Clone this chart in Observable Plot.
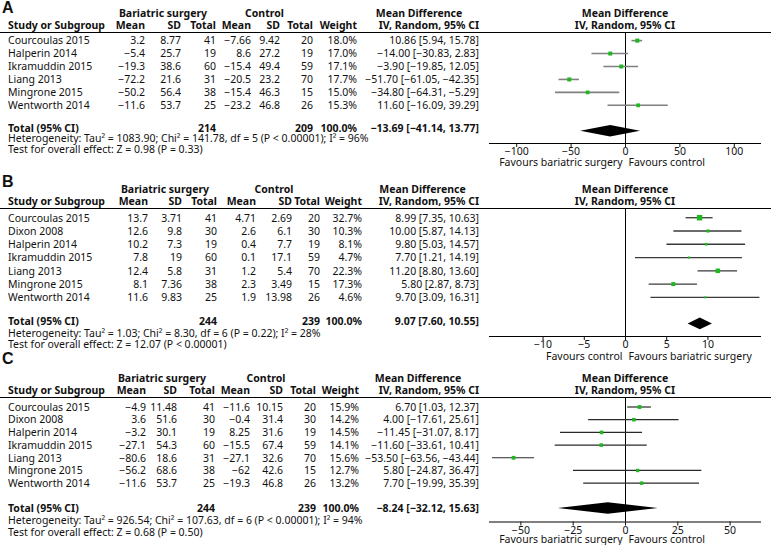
<!DOCTYPE html>
<html><head><meta charset="utf-8">
<script src="https://cdn.jsdelivr.net/npm/d3@7"></script>
<script src="https://cdn.jsdelivr.net/npm/@observablehq/plot@0.6"></script>
<style>
body{margin:0;background:#fff;}
#page{position:relative;width:771px;height:545px;overflow:hidden;font-family:"Noto Sans",sans-serif;color:#111;font-size:10.5px;}
.t{position:absolute;white-space:nowrap;line-height:11px;}
.b{font-weight:bold;}
.lab{font-family:"Liberation Sans",Arial,sans-serif;font-weight:bold;font-size:16px;line-height:16px;}
.hl{position:absolute;left:0;width:771px;height:0;border-top:1px solid #000;}
.pw{position:absolute;left:470px;}
</style></head><body><div id="page"></div>
<script>
// ---------- shared labels ----------
const groupHeaders = ["Bariatric surgery", "Control", "Mean Difference"];
const colHeaders = ["Study or Subgroup", "Mean", "SD", "Total", "Mean", "SD", "Total", "Weight", "IV, Random, 95% CI"];
const forestHeaders = ["Mean Difference", "IV, Random, 95% CI"];
const totalLabel = "Total (95% CI)";

// ---------- Panel A ----------
const studiesA = ["Courcoulas 2015", "Halperin 2014", "Ikramuddin 2015", "Liang 2013", "Mingrone 2015", "Wentworth 2014"];
const bsMeanA = [3.2, -5.4, -19.3, -72.2, -50.2, -11.6];
const bsSDA = [8.77, 25.7, 38.6, 21.6, 56.4, 53.7];
const bsNA = [41, 19, 60, 31, 38, 25];
const cMeanA = [-7.66, 8.6, -15.4, -20.5, -15.4, -23.2];
const cSDA = [9.42, 27.2, 49.4, 23.2, 46.3, 46.8];
const cNA = [20, 19, 59, 70, 15, 26];
const weightA = [18.0, 17.0, 17.1, 17.7, 15.0, 15.3];
const mdA = [10.86, -14.00, -3.90, -51.70, -34.80, 11.60];
const loA = [5.94, -30.83, -19.85, -61.05, -64.31, -16.09];
const hiA = [15.78, 2.83, 12.05, -42.35, -5.29, 39.29];
const totalA = [214, 209, 100.0, -13.69, -41.14, 13.77];
const hetA = "Heterogeneity: Tau² = 1083.90; Chi² = 141.78, df = 5 (P < 0.00001); I² = 96%";
const testA = "Test for overall effect: Z = 0.98 (P = 0.33)";
const ticksA = [-100, -50, 0, 50, 100];
const favoursA = ["Favours bariatric surgery", "Favours control"];

// ---------- Panel B ----------
const studiesB = ["Courcoulas 2015", "Dixon 2008", "Halperin 2014", "Ikramuddin 2015", "Liang 2013", "Mingrone 2015", "Wentworth 2014"];
const bsMeanB = [13.7, 12.6, 10.2, 7.8, 12.4, 8.1, 11.6];
const bsSDB = [3.71, 9.8, 7.3, 19, 5.8, 7.36, 9.83];
const bsNB = [41, 30, 19, 60, 31, 38, 25];
const cMeanB = [4.71, 2.6, 0.4, 0.1, 1.2, 2.3, 1.9];
const cSDB = [2.69, 6.1, 7.7, 17.1, 5.4, 3.49, 13.98];
const cNB = [20, 30, 19, 59, 70, 15, 26];
const weightB = [32.7, 10.3, 8.1, 4.7, 22.3, 17.3, 4.6];
const mdB = [8.99, 10.00, 9.80, 7.70, 11.20, 5.80, 9.70];
const loB = [7.35, 5.87, 5.03, 1.21, 8.80, 2.87, 3.09];
const hiB = [10.63, 14.13, 14.57, 14.19, 13.60, 8.73, 16.31];
const totalB = [244, 239, 100.0, 9.07, 7.60, 10.55];
const hetB = "Heterogeneity: Tau² = 1.03; Chi² = 8.30, df = 6 (P = 0.22); I² = 28%";
const testB = "Test for overall effect: Z = 12.07 (P < 0.00001)";
const ticksB = [-10, -5, 0, 5, 10];
const favoursB = ["Favours control", "Favours bariatric surgery"];

// ---------- Panel C ----------
const studiesC = ["Courcoulas 2015", "Dixon 2008", "Halperin 2014", "Ikramuddin 2015", "Liang 2013", "Mingrone 2015", "Wentworth 2014"];
const bsMeanC = [-4.9, 3.6, -3.2, -27.1, -80.6, -56.2, -11.6];
const bsSDC = [11.48, 51.6, 30.1, 54.3, 18.6, 68.6, 53.7];
const bsNC = [41, 30, 19, 60, 31, 38, 25];
const cMeanC = [-11.6, -0.4, 8.25, -15.5, -27.1, -62, -19.3];
const cSDC = [10.15, 31.4, 31.6, 67.4, 32.6, 42.6, 46.8];
const cNC = [20, 30, 19, 59, 70, 15, 26];
const weightC = [15.9, 14.2, 14.5, 14.1, 15.6, 12.7, 13.2];
const mdC = [6.70, 4.00, -11.45, -11.60, -53.50, 5.80, 7.70];
const loC = [1.03, -17.61, -31.07, -33.61, -63.56, -24.87, -19.99];
const hiC = [12.37, 25.61, 8.17, 10.41, -43.44, 36.47, 35.39];
const totalC = [244, 239, 100.0, -8.24, -32.12, 15.63];
const hetC = "Heterogeneity: Tau² = 926.54; Chi² = 107.63, df = 6 (P < 0.00001); I² = 94%";
const testC = "Test for overall effect: Z = 0.68 (P = 0.50)";
const ticksC = [-50, -25, 0, 25, 50];
const favoursC = ["Favours bariatric surgery", "Favours control"];

// ---------- layout (positions only) ----------
const panels = [
  {label: "A", labelY: 8, headerPx: 32.5, axisPx: 142.5, headerIdx: -0.55, axisIdx: 7.95, totalY: 127.5, hetY: 138, testY: 148.5, favDy: 19.5,
   cols: [145, 181, 216, 251, 280, 313, 357, 479], groupX: [163, 264.5, 419], xDomain: [-125, 125], ci: "#808080", ciW: 1.6,
   studies: studiesA, bsMean: bsMeanA, bsSD: bsSDA, bsN: bsNA, cMean: cMeanA, cSD: cSDA, cN: cNA, w: weightA, md: mdA, lo: loA, hi: hiA,
   total: totalA, het: hetA, test: testA, ticks: ticksA, favours: favoursA},
  {label: "B", labelY: 182, headerPx: 208.5, axisPx: 335.5, headerIdx: -0.62, axisIdx: 8.95, totalY: 321, hetY: 333, testY: 344, favDy: 20.5,
   cols: [148, 182, 217, 256, 292, 320, 362, 479], groupX: [165, 274, 422.5], xDomain: [-16.5, 16.5], ci: "#3a3a3a", ciW: 1.3,
   studies: studiesB, bsMean: bsMeanB, bsSD: bsSDB, bsN: bsNB, cMean: cMeanB, cSD: cSDB, cN: cNB, w: weightB, md: mdB, lo: loB, hi: hiB,
   total: totalB, het: hetB, test: testB, ticks: ticksB, favours: favoursB},
  {label: "C", labelY: 359, headerPx: 397.5, axisPx: 521, headerIdx: -0.67, axisIdx: 9.06, totalY: 508, hetY: 520, testY: 532, favDy: 18,
   cols: [146, 177, 215, 250, 283, 316, 359, 479], groupX: [162, 266, 418], xDomain: [-65, 65], ci: "#2a2a2a", ciW: 1.2,
   studies: studiesC, bsMean: bsMeanC, bsSD: bsSDC, bsN: bsNC, cMean: cMeanC, cSD: cSDC, cN: cNC, w: weightC, md: mdC, lo: loC, hi: hiC,
   total: totalC, het: hetC, test: testC, ticks: ticksC, favours: favoursC}
];

const page = document.getElementById("page");
const neg = s => String(s).replace("-", "\u2212");
const f2 = v => neg(v.toFixed(2));
const ciStr = (m, l, h) => `${f2(m)} [${f2(l)}, ${f2(h)}]`;

function put(str, x, y, anchor, cls) {
  const d = document.createElement("div");
  d.className = "t " + (cls || "");
  d.textContent = str;
  d.style.left = x + "px";
  d.style.top = y + "px";
  const tx = anchor === "end" ? "-100%" : anchor === "middle" ? "-50%" : "0";
  d.style.transform = `translate(${tx},-50%)`;
  page.appendChild(d);
  return d;
}

for (const p of panels) {
  const pitch = (p.axisPx - p.headerPx) / (p.axisIdx - p.headerIdx);
  const rowPx = i => p.headerPx + (i - p.headerIdx) * pitch;
  const n = p.studies.length;
  const r1 = p.headerPx - 19.5, r2 = p.headerPx - 8;

  put(p.label, 2, p.labelY, "start", "lab");
  const hl = document.createElement("div"); hl.className = "hl"; hl.style.top = (p.headerPx - 0.5) + "px"; page.appendChild(hl);
  put(groupHeaders[0], p.groupX[0], r1, "middle", "b");
  put(groupHeaders[1], p.groupX[1], r1, "middle", "b");
  put(groupHeaders[2], p.groupX[2], r1, "middle", "b");
  put(forestHeaders[0], 625, r1, "middle", "b");
  put(forestHeaders[1], 625, r2, "middle", "b");
  put(colHeaders[0], 8, r2, "start", "b");
  for (let c = 0; c < 8; c++) put(colHeaders[c + 1], p.cols[c], r2, "end", "b");
  for (let i = 0; i < n; i++) {
    const y = rowPx(i) + 0.8;
    put(p.studies[i], 8, y, "start");
    const vals = [neg(p.bsMean[i]), neg(p.bsSD[i]), neg(p.bsN[i]), neg(p.cMean[i]), neg(p.cSD[i]), neg(p.cN[i]),
                  p.w[i].toFixed(1) + "%", ciStr(p.md[i], p.lo[i], p.hi[i])];
    vals.forEach((v, c) => put(v, p.cols[c], y, "end"));
  }
  put(totalLabel, 8, p.totalY, "start", "b");
  put(String(p.total[0]), p.cols[2], p.totalY, "end", "b");
  put(String(p.total[1]), p.cols[5], p.totalY, "end", "b");
  put(p.total[2].toFixed(1) + "%", p.cols[6], p.totalY, "end", "b");
  put(ciStr(p.total[3], p.total[4], p.total[5]), p.cols[7], p.totalY, "end", "b");
  put(p.het, 8, p.hetY, "start");
  put(p.test, 8, p.testY, "start");

  // forest plot
  const top = p.headerPx - 34;
  const marginTop = 34, marginBottom = 28;
  const height = Math.round(p.axisPx - top + marginBottom);
  const rows = p.studies.map((s, i) => ({i, md: p.md[i], lo: p.lo[i], hi: p.hi[i], w: p.w[i]}));
  const t = n + 1, h = 5.8 / pitch;
  const diamond = [
    {x: p.total[4], y1: t, y2: t},
    {x: p.total[3], y1: t - h, y2: t + h},
    {x: p.total[5], y1: t, y2: t}
  ];
  const chart = Plot.plot({
    width: 301, height,
    marginLeft: 19, marginRight: 10, marginTop, marginBottom: height - (p.axisPx - top),
    x: {domain: p.xDomain},
    y: {domain: [p.headerIdx, p.axisIdx], reverse: true, axis: null},
    r: {type: "sqrt", domain: [0, 100], range: [0, 5.4]},
    style: {fontFamily: "Noto Sans, sans-serif", fontSize: "10.5px", color: "#111", background: "transparent", overflow: "visible"},
    marks: [
      Plot.ruleX([0], {stroke: "#000", strokeWidth: 1}),
      Plot.ruleY(rows, {y: "i", x1: "lo", x2: "hi", stroke: p.ci, strokeWidth: p.ciW}),
      Plot.dot(rows, {x: "md", y: "i", r: "w", symbol: "square", fill: "#1db81d", stroke: null}),
      Plot.areaY(diamond, {x: "x", y1: "y1", y2: "y2", fill: "#000", curve: "linear"}),
      Plot.ruleY([p.axisIdx], {stroke: "#000", strokeWidth: 1}),
      Plot.axisX({ticks: p.ticks, tickSize: 4, tickPadding: 0.5, anchor: "bottom", tickFormat: d => neg(d), fontSize: 10.5}),
      Plot.text([p.favours[0]], {x: () => 0, y: () => p.axisIdx, text: d => d, dy: p.favDy, dx: -3, textAnchor: "end", fontSize: 10.5, fill: "#111"}),
      Plot.text([p.favours[1]], {x: () => 0, y: () => p.axisIdx, text: d => d, dy: p.favDy, dx: 3, textAnchor: "start", fontSize: 10.5, fill: "#111"})
    ]
  });
  const wrap = document.createElement("div");
  wrap.className = "pw";
  wrap.style.top = top + "px";
  wrap.appendChild(chart);
  page.appendChild(wrap);
}
</script>
</body></html>
